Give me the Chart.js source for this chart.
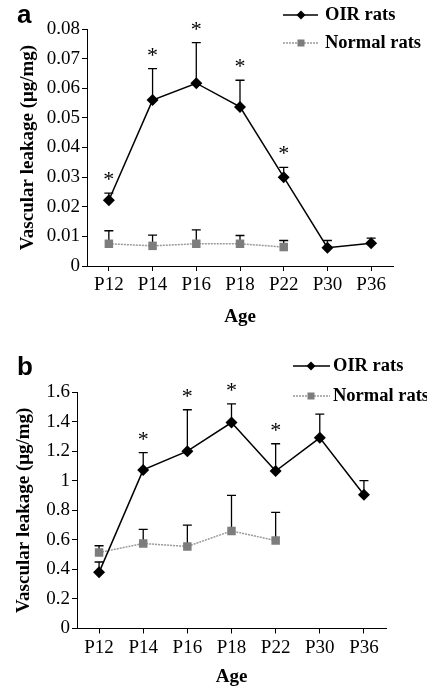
<!DOCTYPE html>
<html>
<head>
<meta charset="utf-8">
<script src="https://cdn.jsdelivr.net/npm/chart.js@4"></script>
<style>
  body { margin: 0; background: #fff; }
  canvas { display: block; }
</style>
</head>
<body>
<canvas id="chartA" width="427" height="330"></canvas>
<canvas id="chartB" width="427" height="360"></canvas>
<script>
const ages = ["P12", "P14", "P16", "P18", "P22", "P30", "P36"];

// panel a (upper error only, as drawn)
const oirA = [0.0222, 0.056, 0.0617, 0.0537, 0.030, 0.0062, 0.0077];
const oirErrA = [0.0024, 0.0106, 0.0137, 0.009, 0.0033, 0.0024, 0.0017];
const normalA = [0.0075, 0.0068, 0.0075, 0.0075, 0.0064, null, null];
const normalErrA = [0.0044, 0.0036, 0.0047, 0.0028, 0.0022, null, null];
const starsA = ["P12", "P14", "P16", "P18", "P22"];
const yTicksA = [0, 0.01, 0.02, 0.03, 0.04, 0.05, 0.06, 0.07, 0.08];

// panel b
const oirB = [0.38, 1.073, 1.2, 1.393, 1.065, 1.29, 0.905];
const oirErrB = [0.07, 0.117, 0.28, 0.127, 0.185, 0.16, 0.095];
const normalB = [0.514, 0.575, 0.555, 0.66, 0.595, null, null];
const normalErrB = [0.046, 0.095, 0.145, 0.24, 0.19, null, null];
const starsB = ["P14", "P16", "P18", "P22"];
const yTicksB = [0, 0.2, 0.4, 0.6, 0.8, 1, 1.2, 1.4, 1.6];

const SERIF = "'Liberation Serif', 'Times New Roman', serif";

// vertical error bars with a cap, drawn under the markers
const errorBars = {
  id: "errorBars",
  beforeDatasetsDraw(chart) {
    const { ctx, scales: { x, y } } = chart;
    ctx.save();
    ctx.strokeStyle = "#000";
    ctx.lineWidth = 1.3;
    chart.data.datasets.forEach((ds) => {
      ds.data.forEach((v, i) => {
        if (v == null || ds.err[i] == null) return;
        const px = x.getPixelForValue(i);
        const top = y.getPixelForValue(v + ds.err[i]);
        ctx.beginPath();
        ctx.moveTo(px, y.getPixelForValue(v));
        ctx.lineTo(px, top);
        ctx.moveTo(px - 4.5, top);
        ctx.lineTo(px + 4.5, top);
        ctx.stroke();
      });
    });
    ctx.restore();
  },
};

function drawDiamond(ctx, x, y, r) {
  ctx.beginPath();
  ctx.moveTo(x, y - r);
  ctx.lineTo(x + r, y);
  ctx.lineTo(x, y + r);
  ctx.lineTo(x - r, y);
  ctx.closePath();
  ctx.fillStyle = "#000";
  ctx.fill();
}

// panel letter, asterisks and the legend
const panelExtras = {
  id: "panel",
  afterDraw(chart, args, opts) {
    const { ctx, scales: { x, y } } = chart;
    const oir = chart.data.datasets[0];
    ctx.save();

    ctx.fillStyle = "#000";
    ctx.font = "bold 26px 'Liberation Sans', Arial, sans-serif";
    ctx.textBaseline = "alphabetic";
    ctx.textAlign = "left";
    ctx.fillText(opts.letter, 17, opts.letterY);

    // significance marks above the OIR error bars
    ctx.font = "22px " + SERIF;
    ctx.textAlign = "center";
    opts.stars.forEach((age) => {
      const i = ages.indexOf(age);
      const top = y.getPixelForValue(oir.data[i] + oir.err[i]);
      const cy = top - 18;
      ctx.fillText("*", x.getPixelForValue(i), cy + 0.5 * 22);
    });

    // legend
    const lg = opts.legend;
    ctx.font = "bold 18.5px " + SERIF;
    ctx.textAlign = "left";
    ctx.textBaseline = "middle";

    ctx.strokeStyle = "#000";
    ctx.lineWidth = 1.5;
    ctx.beginPath();
    ctx.moveTo(lg.x0, lg.y1);
    ctx.lineTo(lg.x1, lg.y1);
    ctx.stroke();
    drawDiamond(ctx, lg.mx, lg.y1, 4.5);
    ctx.fillStyle = "#000";
    ctx.fillText("OIR rats", lg.tx, lg.y1);

    ctx.strokeStyle = "#999";
    ctx.setLineDash([2, 1]);
    ctx.beginPath();
    ctx.moveTo(lg.x0, lg.y2);
    ctx.lineTo(lg.x1, lg.y2);
    ctx.stroke();
    ctx.setLineDash([]);
    ctx.fillStyle = "#7d7d7d";
    ctx.fillRect(lg.mx - 3.5, lg.y2 - 3.5, 7, 7);
    ctx.fillStyle = "#000";
    ctx.fillText("Normal rats", lg.tx, lg.y2);

    ctx.restore();
  },
};

function makeChart(id, p) {
  const ctx = document.getElementById(id).getContext("2d");
  return new Chart(ctx, {
    type: "line",
    data: {
      labels: ages,
      datasets: [
        {
          label: "OIR rats",
          data: p.oir,
          err: p.oirErr,
          borderColor: "#000",
          borderWidth: 1.5,
          pointStyle: "rectRot",
          pointRadius: 6,
          pointBorderWidth: 0,
          pointBackgroundColor: "#000",
          tension: 0,
        },
        {
          label: "Normal rats",
          data: p.normal,
          err: p.normalErr,
          borderColor: "#999",
          borderWidth: 1.5,
          borderDash: [2, 1],
          pointStyle: "rect",
          pointRadius: 6,
          pointBorderWidth: 0,
          pointBackgroundColor: "#7d7d7d",
          tension: 0,
        },
      ],
    },
    options: {
      responsive: false,
      animation: false,
      layout: { padding: { top: p.top, right: p.right, left: 0, bottom: 0 } },
      plugins: {
        legend: { display: false },
        tooltip: { enabled: false },
        panel: p.panel,
      },
      scales: {
        x: {
          offset: true,
          grid: { offset: false, drawOnChartArea: false, color: "#000", tickLength: 5 },
          border: { color: "#000", width: 1 },
          ticks: { color: "#000", font: { family: SERIF, size: 19 }, padding: 3, maxRotation: 0, autoSkip: false },
          title: {
            display: true,
            text: "Age",
            color: "#000",
            font: { family: SERIF, size: 19, weight: "bold" },
            padding: { top: 0, bottom: 2 },
          },
          afterFit: (s) => { s.height = p.xHeight; },
        },
        y: {
          min: 0,
          max: p.max,
          afterBuildTicks: (s) => { s.ticks = p.yTicks.map((v) => ({ value: v })); },
          grid: { drawOnChartArea: false, color: "#000", tickLength: 5 },
          border: { color: "#000", width: 1 },
          ticks: { color: "#000", font: { family: SERIF, size: 19 }, padding: 2, callback: (v) => String(v) },
          title: {
            display: true,
            text: "Vascular leakage (μg/mg)",
            color: "#000",
            font: { family: SERIF, size: 19, weight: "bold" },
            padding: { top: p.titlePad, bottom: 0 },
          },
          afterFit: (s) => { s.width = p.yWidth; },
        },
      },
    },
    plugins: [errorBars, panelExtras],
  });
}

makeChart("chartA", {
  oir: oirA, oirErr: oirErrA, normal: normalA, normalErr: normalErrA,
  yTicks: yTicksA, max: 0.08,
  top: 29, right: 34, yWidth: 87, xHeight: 64, titlePad: 17,
  panel: {
    letter: "a", letterY: 23, stars: starsA,
    legend: { x0: 283, x1: 318, mx: 301, tx: 325, y1: 15, y2: 43 },
  },
});

makeChart("chartB", {
  oir: oirB, oirErr: oirErrB, normal: normalB, normalErr: normalErrB,
  yTicks: yTicksB, max: 1.6,
  top: 62, right: 41, yWidth: 77, xHeight: 61.5, titlePad: 13,
  panel: {
    letter: "b", letterY: 45, stars: starsB,
    legend: { x0: 293, x1: 330, mx: 311, tx: 333, y1: 36, y2: 66 },
  },
});
</script>
</body>
</html>
